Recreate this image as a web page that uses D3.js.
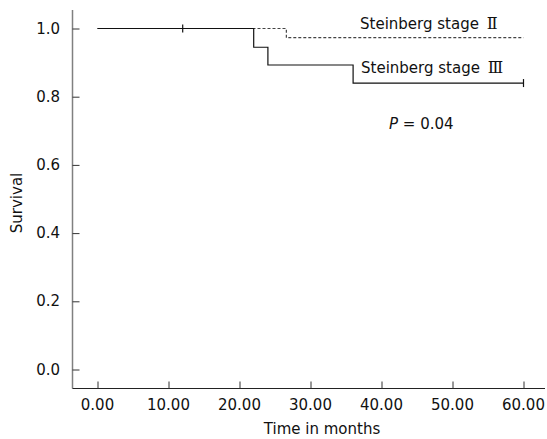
<!DOCTYPE html>
<html>
<head>
<meta charset="utf-8">
<script src="https://cdn.jsdelivr.net/npm/d3@7"></script>
<style>
  body { margin: 0; background: white; }
  svg text { font-family: "DejaVu Sans", sans-serif; fill: #111; }
</style>
</head>
<body>
<script>
// survival steps: [month, survival]
const stage2 = [[0, 1.0], [26.6, 1.0], [26.6, 0.973], [60, 0.973]];
const stage3 = [[0, 1.0], [22, 1.0], [22, 0.945], [24, 0.945], [24, 0.893], [36, 0.893], [36, 0.84], [60, 0.84]];
const censored = [[12, 1.0], [60, 0.84]];
const xTicks = [0, 10, 20, 30, 40, 50, 60];
const yTicks = [0, 0.2, 0.4, 0.6, 0.8, 1.0];
const labels = [
  { name: "Steinberg stage", num: "Ⅱ", x: 360, y: 29 },
  { name: "Steinberg stage", num: "Ⅲ", x: 361, y: 73 }
];

const width = 547, height = 439;
const x = d3.scaleLinear().domain([0, 60]).range([97.5, 523.5]);
const y = d3.scaleLinear().domain([0, 1]).range([369.5, 28.5]);
const axisX = 72.5, axisY = 388.5;

const svg = d3.select("body").append("svg")
  .attr("width", width)
  .attr("height", height);

// y axis
svg.append("line")
  .attr("x1", axisX).attr("x2", axisX)
  .attr("y1", 10).attr("y2", axisY)
  .attr("stroke", "#808080").attr("stroke-width", 1.5);

const yAxis = svg.append("g")
  .attr("transform", `translate(${axisX},0)`)
  .call(d3.axisRight(y).tickValues(yTicks).tickSize(7).tickFormat(""));
yAxis.select(".domain").remove();
yAxis.selectAll("line").attr("stroke", "#333");

svg.append("g").selectAll("text")
  .data(yTicks)
  .join("text")
  .attr("x", 60)
  .attr("y", d => y(d) + 5)
  .attr("text-anchor", "end")
  .attr("font-size", 15)
  .text(d => d3.format(".1f")(d));

// x axis
svg.append("line")
  .attr("x1", axisX).attr("x2", 545)
  .attr("y1", axisY).attr("y2", axisY)
  .attr("stroke", "#222").attr("stroke-width", 1);

const xAxis = svg.append("g")
  .attr("transform", `translate(0,${axisY})`)
  .call(d3.axisTop(x).tickValues(xTicks).tickSize(7).tickFormat(""));
xAxis.select(".domain").remove();
xAxis.selectAll("line").attr("stroke", "#333");

svg.append("g").selectAll("text")
  .data(xTicks)
  .join("text")
  .attr("x", d => x(d))
  .attr("y", 410)
  .attr("text-anchor", "middle")
  .attr("font-size", 15)
  .text(d => d3.format(".2f")(d));

svg.append("text")
  .attr("x", 322)
  .attr("y", 434)
  .attr("text-anchor", "middle")
  .attr("font-size", 15)
  .text("Time in months");

svg.append("text")
  .attr("transform", "translate(22,203) rotate(-90)")
  .attr("text-anchor", "middle")
  .attr("font-size", 15)
  .text("Survival");

// curves
const line = d3.line().x(d => x(d[0])).y(d => y(d[1]));

svg.append("path")
  .datum(stage2)
  .attr("d", line)
  .attr("fill", "none")
  .attr("stroke", "#444")
  .attr("stroke-width", 1.2)
  .attr("stroke-dasharray", "3,2");

svg.append("path")
  .datum(stage3)
  .attr("d", line)
  .attr("fill", "none")
  .attr("stroke", "#111")
  .attr("stroke-width", 1.2);

svg.append("g").selectAll("path")
  .data(censored)
  .join("path")
  .attr("d", d => `M${x(d[0])},${y(d[1]) - 4}v8`)
  .attr("stroke", "#111")
  .attr("stroke-width", 1.2);

// labels
const lab = svg.append("g").selectAll("text")
  .data(labels)
  .join("text")
  .attr("x", d => d.x).attr("y", d => d.y)
  .attr("font-size", 15);
lab.append("tspan").text(d => d.name + " ");
lab.append("tspan")
  .attr("dx", 3)
  .attr("font-family", "'DejaVu Serif', 'Liberation Serif', serif")
  .attr("font-size", 16)
  .text(d => d.num);

const p = svg.append("text")
  .attr("x", 389).attr("y", 129)
  .attr("font-size", 15);
p.append("tspan").attr("font-style", "italic").text("P");
p.append("tspan").text(" = 0.04");
</script>
</body>
</html>
